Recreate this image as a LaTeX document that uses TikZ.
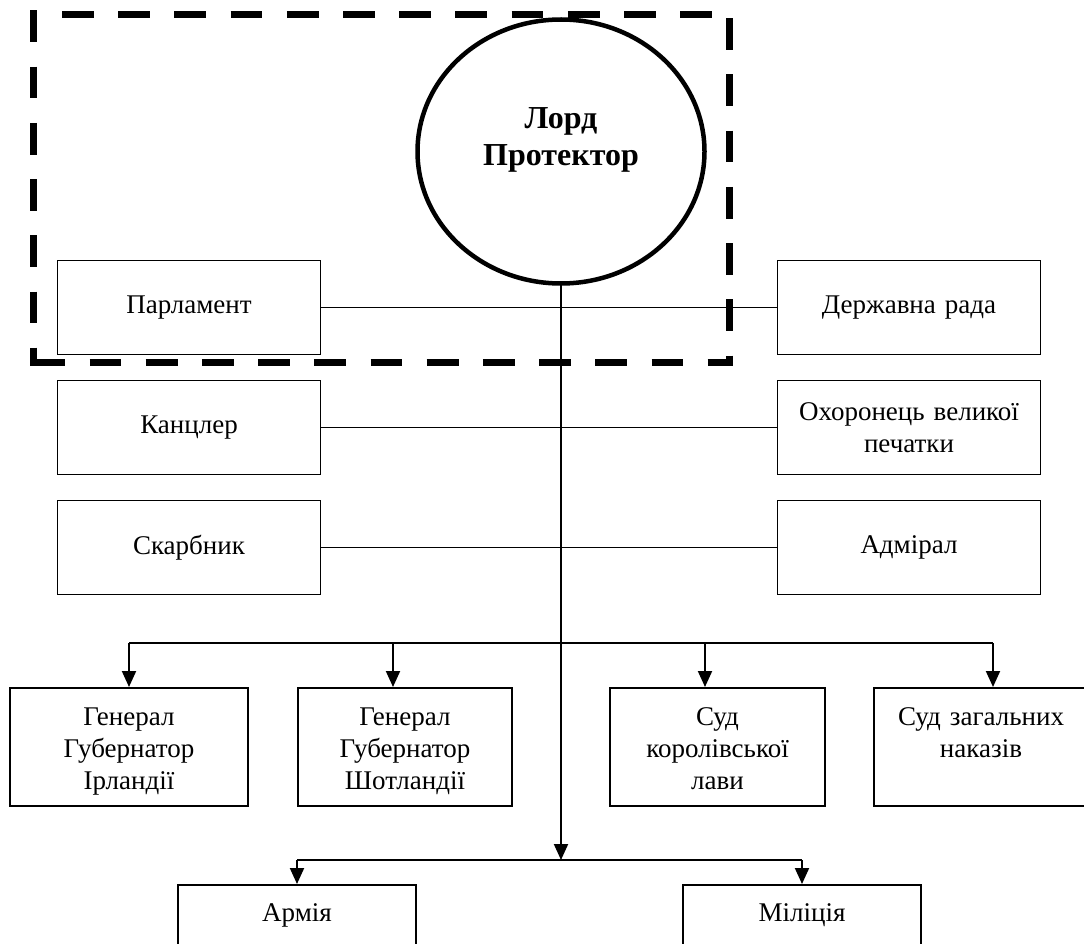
\documentclass[tikz,border=0pt]{standalone}
\usepackage{fontspec}
\setmainfont{Liberation Serif}
\usetikzlibrary{shapes.geometric,arrows.meta}
\begin{document}
\begin{tikzpicture}[x=1pt,y=-1pt,
  frameline/.style={line width=7pt, dash pattern=on 31.8pt off 24.4pt},
  upbox/.style={draw, line width=1.6pt, rectangle, inner sep=0pt, minimum height=94pt,
    text width=#1, align=center, font=\fontsize{27}{32}\selectfont},
  lowbox/.style={draw, line width=2pt, rectangle, inner sep=0pt,
    text width=#1, align=center, text height=37pt, text depth=81pt,
    font=\fontsize{27}{32}\selectfont},
  botbox/.style={draw, line width=2pt, rectangle, inner sep=0pt,
    text width=#1, align=center, text height=36pt, text depth=120pt,
    font=\fontsize{27}{32}\selectfont},
  link/.style={line width=1.3pt},
  bus/.style={line width=1.6pt},
  arr/.style={line width=2pt, -{Triangle[length=16pt,width=14pt]}}
]
\useasboundingbox (0,0) rectangle (1084,944);
\clip (0,0) rectangle (1084,944);
\fill[white] (0,0) rectangle (1084,944);

% dashed frame
\draw[frameline] (62,14.3) -- (729.2,14.3);
\draw[frameline] (729.2,18.3) -- (729.2,362.5);
\draw[frameline] (33.3,362.5) -- (732.7,362.5);
\draw[frameline] (33.3,10.5) -- (33.3,366);

% Lord Protector
\node[draw, ellipse, line width=4.5pt, minimum width=287pt, minimum height=264pt,
  inner sep=0pt, outer sep=0pt] (lp) at (561,151.5) {};
\node[font=\fontsize{32}{37}\selectfont\bfseries, align=center, inner sep=0pt] (lpt) at (561,139.5) {Лорд\\Протектор};

% upper boxes
\node[upbox=263pt] (parl) at (189,307.5) {Парламент};
\node[upbox=263pt] (kanc) at (189,427.5) {Канцлер};
\node[upbox=263pt] (skarb) at (189,547.5) {Скарбник};
\node[upbox=263pt] (derz) at (909,307.5) {Державна рада};
\node[upbox=263pt] (okh) at (909,427.5) {Охоронець великої\\печатки};
\node[upbox=263pt] (adm) at (909,547.5) {Адмірал};

\draw[link] (parl.east) -- (derz.west);
\draw[link] (kanc.east) -- (okh.west);
\draw[link] (skarb.east) -- (adm.west);

% lower boxes
\node[lowbox=238pt, anchor=north] (b1) at (129,687) {Генерал\\Губернатор\\Ірландії};
\node[lowbox=214pt, anchor=north] (b2) at (405,687) {Генерал\\Губернатор\\Шотландії};
\node[lowbox=215pt, anchor=north] (b3) at (717.5,687) {Суд\\королівської\\лави};
\node[lowbox=214pt, anchor=north] (b4) at (981,687) {Суд загальних\\наказів};

\node[botbox=238pt, anchor=north] (army) at (297,884) {Армія};
\node[botbox=238pt, anchor=north] (mil) at (802,884) {Міліція};

% top bus
\coordinate (t1) at (129,643);
\coordinate (t2) at (393,643);
\coordinate (t3) at (705,643);
\coordinate (t4) at (993,643);
\draw[bus] (t1) -- (t4);
\draw[arr] (t1) -- (t1 |- b1.north);
\draw[arr] (t2) -- (t2 |- b2.north);
\draw[arr] (t3) -- (t3 |- b3.north);
\draw[arr] (t4) -- (t4 |- b4.north);

% bottom bus
\coordinate (u1) at (297,860);
\coordinate (u2) at (802,860);
\draw[bus] (u1) -- (u2);
\draw[arr] (u1) -- (army.north);
\draw[arr] (u2) -- (mil.north);

% main vertical
\draw[arr] (lp.south) -- (lp.south |- u1);
\end{tikzpicture}
\end{document}
